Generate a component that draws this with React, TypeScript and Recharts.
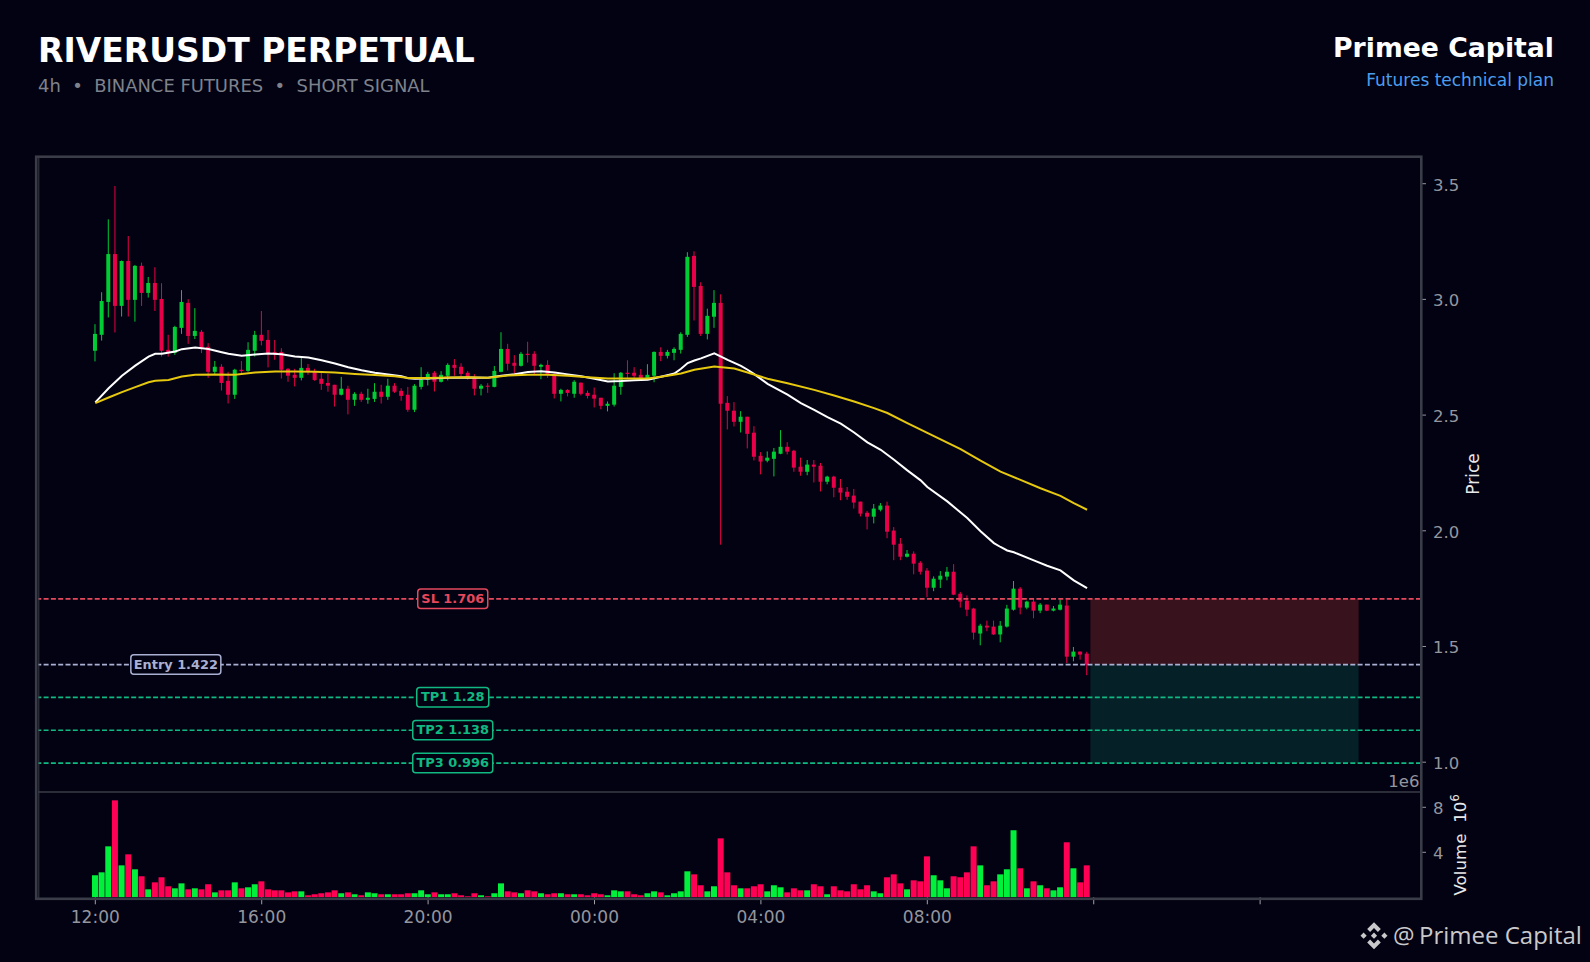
import React from "react";
import { ComposedChart, Bar, Line, XAxis, YAxis, ReferenceLine, ReferenceArea, ReferenceDot } from "recharts";

// open, high, low, close
const candlesA = [
  [2.778,2.893,2.732,2.851],[2.847,3.031,2.822,2.993],[2.989,3.346,2.922,3.196],[3.196,3.490,2.857,2.972],[2.972,3.168,2.926,3.166],
  [3.166,3.274,2.926,2.998],[2.998,3.149,2.904,3.145],[3.145,3.159,2.972,3.028],[3.028,3.097,3.008,3.071],[3.071,3.139,2.950,2.998],
  [3.002,3.070,2.753,2.778],[2.782,2.847,2.753,2.768],[2.769,2.886,2.760,2.881],[2.877,3.040,2.851,2.989],[2.985,3.001,2.808,2.842],
  [2.842,2.962,2.829,2.864],[2.860,2.868,2.768,2.791],[2.795,2.811,2.661,2.687],[2.687,2.734,2.678,2.709],[2.709,2.720,2.606,2.639],
  [2.648,2.687,2.550,2.588],[2.588,2.700,2.570,2.696],[2.696,2.734,2.678,2.690],[2.691,2.815,2.687,2.782],[2.778,2.864,2.753,2.847],
  [2.847,2.950,2.801,2.821],[2.825,2.868,2.706,2.769],[2.773,2.825,2.739,2.769],[2.773,2.789,2.658,2.696],[2.700,2.703,2.644,2.670],
  [2.674,2.700,2.624,2.661],[2.661,2.747,2.650,2.704],[2.704,2.721,2.674,2.687],[2.691,2.700,2.648,2.652],[2.657,2.687,2.609,2.635],
  [2.639,2.678,2.601,2.627],[2.631,2.631,2.537,2.588],[2.588,2.665,2.585,2.614],[2.614,2.627,2.503,2.566],[2.566,2.599,2.540,2.592],
  [2.592,2.601,2.557,2.566],[2.566,2.614,2.549,2.575],[2.570,2.638,2.557,2.601],[2.601,2.631,2.550,2.579],[2.579,2.657,2.566,2.627],
  [2.627,2.638,2.596,2.601],[2.605,2.616,2.562,2.583],[2.588,2.622,2.514,2.523],
];
const candlesB = [
  [2.523,2.634,2.513,2.627],[2.622,2.707,2.611,2.653],[2.653,2.687,2.628,2.678],[2.683,2.690,2.602,2.644],[2.644,2.690,2.641,2.674],
  [2.670,2.724,2.650,2.717],[2.717,2.742,2.670,2.704],[2.709,2.724,2.665,2.678],[2.683,2.691,2.653,2.657],[2.661,2.677,2.585,2.614],
  [2.614,2.634,2.585,2.627],[2.627,2.638,2.596,2.624],[2.622,2.712,2.620,2.691],[2.687,2.858,2.685,2.786],[2.786,2.808,2.693,2.722],
  [2.726,2.759,2.674,2.713],[2.713,2.773,2.710,2.765],[2.765,2.817,2.727,2.760],[2.765,2.776,2.674,2.713],[2.709,2.722,2.655,2.717],
  [2.717,2.737,2.661,2.674],[2.670,2.681,2.572,2.592],[2.592,2.614,2.559,2.609],[2.609,2.612,2.581,2.596],[2.592,2.651,2.575,2.644],
  [2.640,2.641,2.585,2.592],[2.596,2.606,2.572,2.583],[2.588,2.619,2.533,2.571],[2.575,2.575,2.525,2.540],[2.540,2.559,2.516,2.549],
  [2.545,2.681,2.537,2.627],[2.622,2.686,2.588,2.683],[2.683,2.737,2.661,2.678],[2.683,2.707,2.661,2.670],[2.674,2.699,2.653,2.661],
  [2.661,2.720,2.655,2.674],[2.670,2.775,2.642,2.773],[2.773,2.793,2.733,2.756],[2.756,2.782,2.745,2.773],[2.769,2.793,2.737,2.786],
  [2.782,2.858,2.766,2.851],[2.847,3.204,2.838,3.184],[3.188,3.208,2.909,3.054],[3.058,3.074,2.842,2.851],[2.851,2.960,2.827,2.929],
  [2.925,3.040,2.877,2.985],[2.985,3.022,1.940,2.549],
];
const candlesC = [
  [2.553,2.582,2.438,2.519],[2.519,2.556,2.451,2.471],[2.471,2.517,2.425,2.493],[2.493,2.493,2.356,2.419],[2.424,2.452,2.304,2.320],
  [2.324,2.340,2.244,2.299],[2.303,2.343,2.296,2.316],[2.311,2.358,2.235,2.342],[2.333,2.435,2.331,2.363],[2.363,2.383,2.330,2.342],
  [2.346,2.350,2.255,2.273],[2.277,2.316,2.238,2.255],[2.255,2.306,2.240,2.286],[2.286,2.306,2.209,2.277],[2.281,2.293,2.170,2.212],
  [2.212,2.238,2.201,2.234],[2.234,2.238,2.145,2.186],[2.186,2.224,2.132,2.165],[2.169,2.189,2.134,2.147],[2.152,2.181,2.096,2.122],
  [2.126,2.126,2.062,2.074],[2.078,2.086,2.006,2.061],[2.061,2.116,2.032,2.096],[2.091,2.120,2.084,2.109],[2.109,2.126,1.968,1.996],
  [2.001,2.016,1.873,1.940],[1.944,1.969,1.873,1.888],[1.888,1.917,1.885,1.901],
];
const candlesD = [
  [1.901,1.911,1.812,1.858],[1.862,1.869,1.811,1.823],[1.828,1.839,1.713,1.754],[1.754,1.803,1.739,1.793],[1.789,1.826,1.753,1.806],
  [1.802,1.844,1.786,1.823],[1.823,1.856,1.722,1.724],[1.728,1.736,1.668,1.694],[1.698,1.721,1.631,1.659],[1.664,1.667,1.530,1.560],
  [1.556,1.598,1.505,1.590],[1.590,1.612,1.566,1.582],[1.586,1.612,1.550,1.552],[1.552,1.610,1.518,1.590],[1.586,1.680,1.582,1.664],
  [1.659,1.783,1.655,1.750],[1.750,1.757,1.639,1.668],[1.668,1.698,1.661,1.694],[1.694,1.705,1.622,1.655],[1.655,1.688,1.644,1.681],
  [1.681,1.681,1.653,1.655],[1.655,1.675,1.652,1.664],[1.659,1.703,1.656,1.681],[1.677,1.703,1.429,1.456],[1.456,1.498,1.436,1.478],
  [1.478,1.478,1.443,1.465],[1.469,1.477,1.376,1.422],
];

// volume, in millions
const volumes = [
  1.96,2.22,4.53,8.62,2.84,3.82,2.49,1.87,.71,1.33,1.78,.98,.80,1.24,.71,.80,.71,1.16,.44,.62,.62,1.33,.80,.89,1.16,
  1.42,.71,.62,.62,.44,.53,.53,.18,.27,.36,.44,.62,.36,.44,.27,.18,.44,.36,.27,.27,.27,.27,.36,.36,.62,
  .27,.44,.27,.27,.36,.18,.09,.36,.18,.09,.36,1.24,.53,.44,.36,.62,.53,.36,.27,.36,.36,.27,.27,.27,.18,
  .36,.27,.18,.62,.53,.53,.27,.18,.36,.53,.44,.18,.36,.53,2.31,2.04,1.07,.53,.98,5.24,2.22,1.07,.80,.80,.98,
  1.16,.53,1.07,.89,.44,.80,.62,.62,1.16,.98,.27,.98,.62,.53,1.16,.71,1.07,.53,.36,1.78,2.04,1.24,.71,1.51,1.42,
  3.64,1.96,1.51,.80,1.87,1.78,2.22,4.53,2.84,1.07,1.42,2.04,2.49,5.96,2.58,.80,1.42,1.07,.80,.62,.89,4.89,2.58,1.33,2.84,
];

// [candle index, price]
const fastMaPoints = [
  [0,2.555],[2,2.616],[4,2.670],[6,2.714],[8,2.753],[9,2.765],[10,2.765],[12,2.775],[13,2.785],[15,2.792],[17,2.786],[19,2.772],
  [20,2.765],[22,2.757],[24,2.762],[26,2.766],[28,2.763],[30,2.753],[32,2.749],[34,2.737],[36,2.723],[38,2.707],[40,2.694],[42,2.683],
  [44,2.675],[46,2.668],[47,2.659],[48,2.657],[50,2.658],[53,2.661],[56,2.662],[59,2.661],[61,2.670],[63,2.677],[65,2.686],[67,2.689],
  [69,2.684],[71,2.676],[73,2.668],[75,2.657],[77,2.645],[79,2.647],[81,2.651],[83,2.653],[85,2.666],[87,2.680],[88,2.700],[89,2.725],
  [90,2.736],[91,2.745],[93,2.767],[95,2.739],[97,2.713],[98,2.696],[99,2.677],[101,2.635],[104,2.588],[106,2.552],[108,2.523],[110,2.491],
  [112,2.463],[114,2.425],[116,2.382],[118,2.350],[120,2.307],[122,2.261],[124,2.218],[125,2.189],[128,2.127],[131,2.055],[133,1.998],
  [135,1.947],[136,1.930],[137,1.915],[138,1.907],[141,1.872],[143,1.849],[145,1.829],[147,1.786],[149,1.752],
];
const slowMaPoints = [
  [0,2.552],[2,2.576],[4,2.599],[6,2.621],[8,2.642],[9,2.648],[11,2.652],[13,2.667],[15,2.674],[18,2.675],[21,2.674],[24,2.684],[27,2.688],
  [30,2.688],[33,2.687],[36,2.684],[39,2.678],[42,2.673],[45,2.668],[47,2.660],[50,2.660],[53,2.663],[56,2.664],[59,2.661],[62,2.671],
  [65,2.674],[68,2.674],[71,2.670],[74,2.664],[77,2.658],[80,2.658],[83,2.658],[86,2.670],[88,2.680],[90,2.696],[93,2.710],[96,2.701],
  [98,2.684],[101,2.657],[104,2.638],[108,2.609],[111,2.585],[114,2.559],[117,2.530],[119,2.509],[122,2.465],[125,2.423],[128,2.381],
  [130,2.353],[133,2.303],[136,2.256],[139,2.220],[142,2.184],[145,2.151],[147,2.120],[149,2.091],
];

const priceTicks = [1.0, 1.5, 2.0, 2.5, 3.0, 3.5];
const volumeTicks = [4, 8];
const timeTicks = [0, 25, 50, 75, 100, 125, 150, 175];
const timeLabels = ["12:00", "16:00", "20:00", "00:00", "04:00", "08:00", "", ""];

const stopLoss = 1.706;
const entry = 1.422;
const takeProfit1 = 1.28;
const takeProfit2 = 1.138;
const takeProfit3 = 0.996;

const allCandles = [...candlesA, ...candlesB, ...candlesC, ...candlesD];
const rows = allCandles.map(([open, high, low, close], i) => ({
  i, open, high, low, close, range: [low, high], volume: volumes[i],
}));
const fastMa = fastMaPoints.map(([i, v]) => ({ i, v }));
const slowMa = slowMaPoints.map(([i, v]) => ({ i, v }));

const BG = "#030212";
const FONT = "'DejaVu Sans', sans-serif";
const UP = "#00cc33";
const DOWN = "#e80048";
const VOL_UP = "#00f03c";
const VOL_DOWN = "#ff0055";
const GREY = "#94969e";
const SPINE = "#3a3d47";
const X_DOMAIN = [-8.609, 199.17];

function Candle(props: any) {
  const { x, y, width, height, payload } = props;
  const { open, high, low, close } = payload;
  const span = high - low || 1;
  const color = close >= open ? UP : DOWN;
  const cx = x + width / 2;
  const top = y + ((high - Math.max(open, close)) / span) * height;
  const bottom = y + ((high - Math.min(open, close)) / span) * height;
  return (
    <g>
      <line x1={cx} x2={cx} y1={y} y2={y + height} stroke={color} strokeWidth={1} />
      <rect x={cx - 2} y={top} width={4} height={Math.max(bottom - top, 1)} fill={color} />
    </g>
  );
}

function VolumeBar(props: any) {
  const { x, y, width, height, payload } = props;
  return (
    <rect x={x} y={y} width={width} height={height}
      fill={payload.close >= payload.open ? VOL_UP : VOL_DOWN} />
  );
}

function tag(text: string, color: string, w: number) {
  return (props: any) => {
    const { cx, cy } = props;
    return (
      <g>
        <rect x={cx - w / 2} y={cy - 9.8} width={w} height={19.4} rx={3} fill={BG} stroke={color} strokeWidth={1.5} />
        <text x={cx} y={cy + 4} textAnchor="middle" fontFamily={FONT} fontWeight={700} fontSize={12.9} fill={color}>{text}</text>
      </g>
    );
  };
}

const SL_C = "#e5485d";
const EN_C = "#a9b0d2";
const TP_C = "#10b981";

export default function App() {
  return (
    <div style={{ position: "absolute", left: 0, top: 0, width: 1590, height: 962, background: BG, overflow: "hidden", fontFamily: FONT }}>
      <div style={{ position: "absolute", left: 0, top: 0 }}>
        <ComposedChart width={1590} height={962} data={rows}
          margin={{ top: 157, bottom: 170, left: 38, right: 109 }}>
          <XAxis type="number" dataKey="i" domain={X_DOMAIN} allowDataOverflow hide />
          <YAxis orientation="right" width={60} domain={[0.8712, 3.6154]} allowDataOverflow ticks={priceTicks} interval={0}
            tickFormatter={(v: number) => v.toFixed(1)} axisLine={false} tickSize={5} tickMargin={7}
            tickLine={{ stroke: GREY }} tick={{ fill: GREY, fontSize: 16.5, fontFamily: FONT, dy: 1 }} />
          <ReferenceArea x1={149.5} x2={189.8} y1={entry} y2={stopLoss} fill="#38121c" fillOpacity={1} stroke="none" />
          <ReferenceArea x1={149.5} x2={189.8} y1={takeProfit3} y2={entry} fill="#062028" fillOpacity={1} stroke="none" />
          <Bar dataKey="range" barSize={4} shape={<Candle />} isAnimationActive={false} />
          <Line data={fastMa} dataKey="v" type="linear" stroke="#ffffff" strokeWidth={2} dot={false} isAnimationActive={false} />
          <Line data={slowMa} dataKey="v" type="linear" stroke="#e6c80f" strokeWidth={2} dot={false} isAnimationActive={false} />
          <ReferenceLine y={stopLoss} stroke={SL_C} strokeWidth={1.7} strokeDasharray="5 2.3" />
          <ReferenceLine y={entry} stroke={EN_C} strokeWidth={1.7} strokeDasharray="5 2.3" />
          <ReferenceLine y={takeProfit1} stroke={TP_C} strokeWidth={1.7} strokeDasharray="5 2.3" />
          <ReferenceLine y={takeProfit2} stroke={TP_C} strokeWidth={1.7} strokeDasharray="5 2.3" />
          <ReferenceLine y={takeProfit3} stroke={TP_C} strokeWidth={1.7} strokeDasharray="5 2.3" />
          <ReferenceDot x={53.7} y={stopLoss} r={0} shape={tag("SL 1.706", SL_C, 70)} />
          <ReferenceDot x={12.1} y={entry} r={0} shape={tag("Entry 1.422", EN_C, 90)} />
          <ReferenceDot x={53.7} y={takeProfit1} r={0} shape={tag("TP1 1.28", TP_C, 72)} />
          <ReferenceDot x={53.7} y={takeProfit2} r={0} shape={tag("TP2 1.138", TP_C, 80)} />
          <ReferenceDot x={53.7} y={takeProfit3} r={0} shape={tag("TP3 0.996", TP_C, 80)} />
        </ComposedChart>
      </div>
      <div style={{ position: "absolute", left: 0, top: 0 }}>
        <ComposedChart width={1590} height={962} data={rows}
          margin={{ top: 792, bottom: 34.7, left: 38, right: 109 }}>
          <XAxis type="number" dataKey="i" domain={X_DOMAIN} allowDataOverflow height={30} ticks={timeTicks} interval={0}
            tickFormatter={(v: number) => timeLabels[timeTicks.indexOf(v)]} axisLine={false} tickSize={7} tickMargin={7}
            tickLine={{ stroke: "#a0a2a8" }} tick={{ fill: GREY, fontSize: 17, fontFamily: FONT }} />
          <YAxis orientation="right" width={60} domain={[0, 9.36]} allowDataOverflow ticks={volumeTicks} interval={0}
            axisLine={false} tickSize={5} tickMargin={7}
            tickLine={{ stroke: GREY }} tick={{ fill: GREY, fontSize: 16.5, fontFamily: FONT, dy: 1 }} />
          <Bar dataKey="volume" barSize={6} shape={<VolumeBar />} isAnimationActive={false} />
        </ComposedChart>
      </div>
      <svg width={1590} height={962} style={{ position: "absolute", left: 0, top: 0, pointerEvents: "none" }}>
        <rect x={36.2} y={156.7} width={1385.1} height={742.1} fill="none" stroke={SPINE} strokeWidth={2.6} />
        <line x1={38.8} x2={38.8} y1={157} y2={898} stroke={SPINE} strokeWidth={1} />
        <line x1={38} x2={1421} y1={792} y2={792} stroke={SPINE} strokeWidth={1.4} />

        <text x={38} y={61.7} fontFamily={FONT} fontWeight={700} fontSize={33} fill="#ffffff">RIVERUSDT PERPETUAL</text>
        <text x={38} y={92} fontFamily={FONT} fontSize={17.95} fill="#7e828c">{"4h\u00a0\u00a0•\u00a0\u00a0BINANCE FUTURES\u00a0\u00a0•\u00a0\u00a0SHORT SIGNAL"}</text>
        <text x={1554} y={56.5} textAnchor="end" fontFamily={FONT} fontWeight={700} fontSize={26.7} fill="#ffffff">Primee Capital</text>
        <text x={1554} y={86} textAnchor="end" fontFamily={FONT} fontSize={17} fill="#4a9eed">Futures technical plan</text>

        <text x={1419.5} y={787.2} textAnchor="end" fontFamily={FONT} fontSize={16.5} fill={GREY}>1e6</text>
        <text transform="translate(1479,474) rotate(-90)" textAnchor="middle" fontFamily={FONT} fontSize={17} fill="#e8e8e8">Price</text>
        <text transform="translate(1465.5,895.5) rotate(-90)" fontFamily={FONT} fontSize={16.7} fill="#e8e8e8">
          {"Volume\u00a0\u00a010"}<tspan dy={-6.5} fontSize={11.5}>6</tspan>
        </text>

        <g transform="translate(1374,935.7)" fill="#c9c9cc">
          <polygon points="0,-13.5 6.8,-6.7 3.9,-3.8 0,-7.7 -3.9,-3.8 -6.8,-6.7" />
          <polygon points="0,13.5 6.8,6.7 3.9,3.8 0,7.7 -3.9,3.8 -6.8,6.7" />
          <polygon points="-13.5,0 -10.4,-3.1 -7.3,0 -10.4,3.1" />
          <polygon points="13.5,0 10.4,-3.1 7.3,0 10.4,3.1" />
          <polygon points="0,-3.1 3.1,0 0,3.1 -3.1,0" />
        </g>
        <text x={1393} y={944} fontFamily="'Open Sans', sans-serif" fontSize={24} fill="#c9c9cc">@</text>
        <text x={1419} y={944} fontFamily="'Open Sans', sans-serif" fontSize={24} fill="#c9c9cc">Primee Capital</text>
      </svg>
    </div>
  );
}
